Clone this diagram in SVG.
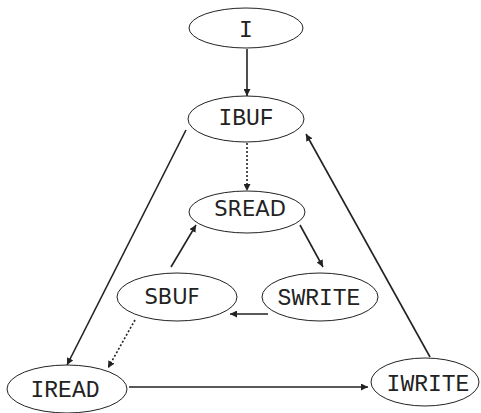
<svg xmlns="http://www.w3.org/2000/svg" width="481" height="413" viewBox="0 0 481 413">
<style>
.n ellipse{fill:#fff;stroke:#222;stroke-width:1}
.m{font-family:"Liberation Mono","DejaVu Sans Mono",monospace;font-size:23px;fill:#222;text-anchor:middle}
.s{font-family:"DejaVu Sans","Liberation Sans",sans-serif;font-size:21px;fill:#222;text-anchor:middle}
.e line{stroke:#222;stroke-width:1.6;fill:none}
.e .d{stroke-dasharray:2 2}
</style>
<defs>
<marker id="a" viewBox="0 0 10 10" refX="10" refY="5" markerWidth="7" markerHeight="7" markerUnits="userSpaceOnUse" orient="auto"><path d="M0,0L10,5L0,10z" fill="#222"/></marker>
</defs>
<g class="e" id="edges">
<line x1="247" y1="49" x2="247" y2="96" marker-end="url(#a)"/>
<line class="d" x1="247" y1="143" x2="247" y2="191" marker-end="url(#a)"/>
<line x1="186" y1="130" x2="67" y2="365" marker-end="url(#a)"/>
<line x1="430" y1="357" x2="306" y2="134" marker-end="url(#a)"/>
<line x1="300" y1="225" x2="323" y2="267" marker-end="url(#a)"/>
<line x1="268" y1="314" x2="230" y2="314" marker-end="url(#a)"/>
<line x1="171" y1="267" x2="196" y2="225" marker-end="url(#a)"/>
<line class="d" x1="135" y1="320" x2="108" y2="368" marker-end="url(#a)"/>
<line x1="129" y1="387" x2="368" y2="387" marker-end="url(#a)"/>
</g>
<g class="n" id="I"><ellipse cx="246" cy="28" rx="57" ry="20"/><text class="m" x="246" y="37">I</text></g>
<g class="n" id="IBUF"><ellipse cx="246" cy="119" rx="58" ry="23"/><text class="m" x="246" y="125">IBUF</text></g>
<g class="n" id="SREAD"><ellipse cx="247" cy="212" rx="58" ry="21"/><text class="s" x="250" y="216">SREAD</text></g>
<g class="n" id="SBUF"><ellipse cx="177" cy="297" rx="60" ry="24"/><text class="s" x="172" y="304">SBUF</text></g>
<g class="n" id="SWRITE"><ellipse cx="320" cy="297" rx="58" ry="24"/><text class="m" x="319" y="305">SWRITE</text></g>
<g class="n" id="IREAD"><ellipse cx="67" cy="389" rx="60" ry="24"/><text class="m" x="65" y="397">IREAD</text></g>
<g class="n" id="IWRITE"><ellipse cx="425" cy="382" rx="54" ry="24"/><text class="m" x="428" y="391">IWRITE</text></g>
</svg>
